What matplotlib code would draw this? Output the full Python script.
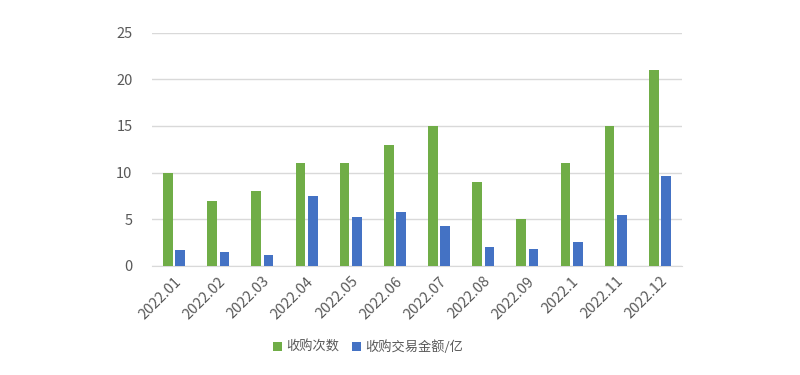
import matplotlib
matplotlib.use("Agg")
import matplotlib.pyplot as plt
import numpy as np

plt.rcParams['font.family'] = ['Noto Sans CJK SC', 'DejaVu Sans']

months = ["2022.01", "2022.02", "2022.03", "2022.04", "2022.05", "2022.06",
          "2022.07", "2022.08", "2022.09", "2022.1", "2022.11", "2022.12"]
deal_count = [10, 7, 8, 11, 11, 13, 15, 9, 5, 11, 15, 21]
deal_amount = [1.7, 1.5, 1.2, 7.5, 5.2, 5.8, 4.3, 2.0, 1.8, 2.6, 5.4, 9.65]

green = "#70AD47"
blue = "#4472C4"
text_color = "#595959"

fig = plt.figure(figsize=(8, 3.75), dpi=100)
ax = fig.add_axes([0.19, 0.291, 0.6625, 0.622])

x = np.arange(len(months))
w = 0.22
ax.bar(x - 0.14, deal_count, w, color=green, label="收购次数", zorder=3)
ax.bar(x + 0.14, deal_amount, w, color=blue, label="收购交易金额/亿", zorder=3)

ax.set_xlim(-0.5, len(months) - 0.5)
ax.set_ylim(0, 25)
ax.set_yticks([0, 5, 10, 15, 20, 25])
ax.yaxis.grid(True, color="#D9D9D9", linewidth=1, zorder=0)
ax.set_axisbelow(True)
for s in ["top", "right", "left"]:
    ax.spines[s].set_visible(False)
ax.spines["bottom"].set_color("#D9D9D9")

ax.set_xticks(x)
ax.set_xticklabels(months, rotation=45, ha="right", rotation_mode="anchor")
ax.tick_params(axis="both", length=0, labelsize=10.5, colors=text_color, pad=6)
ax.tick_params(axis="y", pad=14)

fig.legend(loc="center", bbox_to_anchor=(0.46, 0.075), ncol=2, frameon=False,
           fontsize=9.5, handlelength=0.7, handleheight=0.7, handletextpad=0.3,
           columnspacing=1.0, labelcolor=text_color)

fig.savefig("out.png", dpi=100)
